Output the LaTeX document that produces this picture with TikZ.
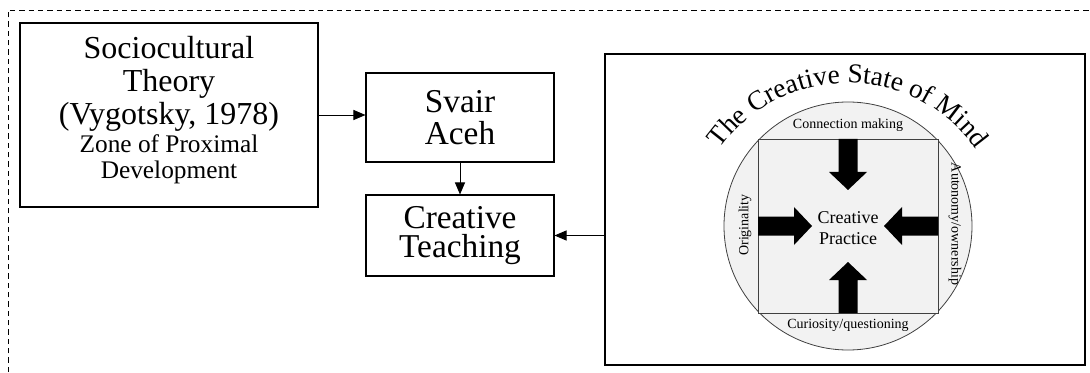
\documentclass[tikz,border=0pt]{standalone}
\usepackage{fontspec}
\setmainfont{Liberation Serif}
\usetikzlibrary{arrows.meta, decorations.text, calc}

\def\px{0.75pt}

\begin{document}
\begin{tikzpicture}[x=0.75pt, y=0.75pt,
    box/.style={draw, line width=0.8pt, align=center, inner sep=0pt},
    link/.style={line width=0.7pt, -{Triangle[length=9pt,width=7.5pt]}},
    lbl/.style={font=\fontsize{10.5}{12}\selectfont, inner sep=0pt}]
    % --- 1. 外框 ---
    \useasboundingbox (0,0) rectangle (1090,372);
    \draw[line width=0.6pt, dash pattern=on 4pt off 3pt] (8,0) -- (8,362) -- (1090,362);

    % --- 2. 左側三個方框 ---
    \node[box, minimum width=298*\px, minimum height=184*\px,
        font=\fontsize{24}{25}\selectfont] (socio) at (169,257)
        {Sociocultural\\Theory\\(Vygotsky, 1978)\\[-4pt]
         {\fontsize{19}{19}\selectfont Zone of Proximal}\\[-6pt]
         {\fontsize{19}{19}\selectfont Development\rule[-12pt]{0pt}{0pt}}};
    \node[box, minimum width=188*\px, minimum height=89*\px,
        font=\fontsize{25}{24}\selectfont] (svair) at (460,254.5) {Svair\\Aceh};
    \node[box, minimum width=188*\px, minimum height=81*\px,
        font=\fontsize{25}{22}\selectfont] (teach) at (460,136.5) {Creative\\Teaching};

    % --- 3. 右側方框, 圓與正方形 ---
    \node[box, minimum width=480*\px, minimum height=311*\px] (frame) at (845,162.5) {};
    \coordinate (C) at (848,146);
    \coordinate (T) at (848,132);
    \draw[fill=gray!10, draw=black!75, line width=0.6pt] (C) circle (124);
    \node[draw=black!75, fill=gray!10, line width=0.6pt, minimum width=180*\px,
        minimum height=174*\px, inner sep=0pt] (core) at (C) {};

    % --- 4. 四個粗箭頭 ---
    \foreach \ang/\d in {90/87, 270/87, 180/90, 0/90}
        \fill[shift={(C)}, rotate=\ang] (\d,-9.5) -- (54,-9.5) -- (54,-19) -- (36,0)
            -- (54,19) -- (54,9.5) -- (\d,9.5) -- cycle;

    % --- 5. 標籤 ---
    \node[align=center, font=\fontsize{13.5}{16}\selectfont] (practice) at (848,144)
        {Creative\\Practice};
    \node[lbl] (connect) at (848,247) {Connection making};
    \node[lbl] (curious) at (848,47) {Curiosity/questioning};
    \node[lbl, rotate=90] (origin) at (745,147) {Originality};
    \node[lbl, rotate=-90] (autonomy) at (955,148) {Autonomy/ownership};
    \path[decorate, decoration={text along path, text align=center,
        text={|\fontsize{20.5}{24}\selectfont|The Creative State of Mind}}]
        ($(T)+(147:157)$) arc[start angle=147, end angle=33, radius=157];

    % --- 6. 連線 ---
    \draw[link] (socio.east) -- (socio.east -| svair.west);
    \draw[link] (svair) -- (teach);
    \draw[link] (frame.west |- teach) -- (teach.east);
\end{tikzpicture}
\end{document}
